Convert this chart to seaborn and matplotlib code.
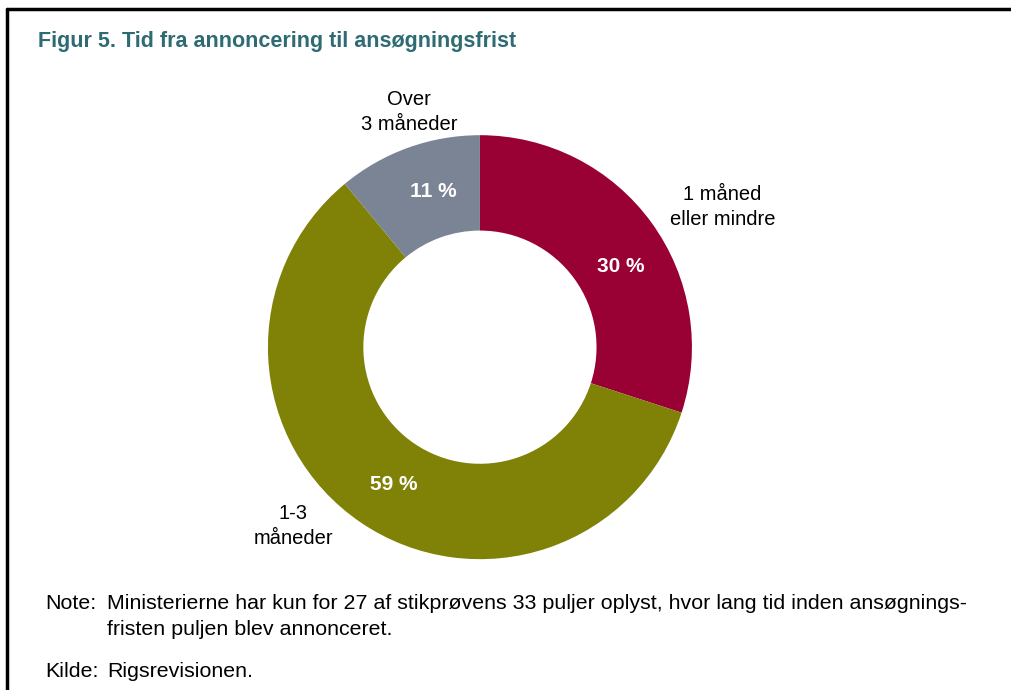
import numpy as np
import matplotlib
matplotlib.use("Agg")
import matplotlib.pyplot as plt
import seaborn as sns

# data
categories = ["1 måned\neller mindre", "1-3\nmåneder", "Over\n3 måneder"]
shares = [30, 59, 11]
pct_labels = ["30 %", "59 %", "11 %"]
colors = ["#990033", "#808208", "#7a8494"]

title = "Figur 5. Tid fra annoncering til ansøgningsfrist"
note_head = "Note:"
note_lines = ["Ministerierne har kun for 27 af stikprøvens 33 puljer oplyst, hvor lang tid inden ansøgnings-",
              "fristen puljen blev annonceret."]
source_head = "Kilde:"
source_text = "Rigsrevisionen."

sns.set_theme(style="white")
plt.rcParams["font.family"] = ["Liberation Sans", "DejaVu Sans"]
plt.rcParams["text.color"] = "black"

fig = plt.figure(figsize=(10.12, 6.9), dpi=100)
fig.patch.set_facecolor("white")

# square axes so the donut sits where the reference has it
ax = fig.add_axes([0.160, 0.036, 0.6285, 0.9217])
wedges, _ = ax.pie(shares, colors=colors, startangle=90, counterclock=False,
                   radius=1.0, wedgeprops=dict(width=0.45, linewidth=0))
ax.set_xlim(-1.5, 1.5)
ax.set_ylim(-1.5, 1.5)
ax.set_aspect("equal")
ax.axis("off")

# percent labels inside the ring, category labels outside
pct_shift = [-6, 2, -3]
label_dist = [1.32, 1.22, 1.16]
label_shift = [-6, -12, -3]
for w, pct, cat, ps, d, sh in zip(wedges, pct_labels, categories, pct_shift, label_dist, label_shift):
    mid = np.deg2rad((w.theta1 + w.theta2) / 2)
    a1 = mid + np.deg2rad(ps)
    ax.text(0.765 * np.cos(a1), 0.765 * np.sin(a1), pct, ha="center", va="center",
            color="white", fontsize=15, fontweight="bold")
    a2 = mid + np.deg2rad(sh)
    ax.text(d * np.cos(a2), d * np.sin(a2), cat, ha="center", va="center",
            color="black", fontsize=14.5, linespacing=1.4)

fig.text(38 / 1012, 1 - 42 / 690, title, ha="left", va="center",
         color="#2e6b73", fontsize=15.5, fontweight="bold")

fs = 15.4
fig.text(45 / 1012, 1 - 609 / 690, note_head, ha="left", va="baseline", fontsize=fs)
fig.text(107 / 1012, 1 - 609 / 690, note_lines[0], ha="left", va="baseline", fontsize=fs)
fig.text(107 / 1012, 1 - 635 / 690, note_lines[1], ha="left", va="baseline", fontsize=fs)
fig.text(45 / 1012, 1 - 677 / 690, source_head, ha="left", va="baseline", fontsize=fs)
fig.text(107 / 1012, 1 - 677 / 690, source_text, ha="left", va="baseline", fontsize=fs)

# frame lines at top and left
fig.add_artist(plt.Line2D([7 / 1012, 1], [1 - 9 / 690, 1 - 9 / 690], color="black", lw=2.5,
                          transform=fig.transFigure))
fig.add_artist(plt.Line2D([7 / 1012, 7 / 1012], [0, 1 - 9 / 690], color="black", lw=2.5,
                          transform=fig.transFigure))

fig.savefig("out.png", dpi=100, facecolor="white")
